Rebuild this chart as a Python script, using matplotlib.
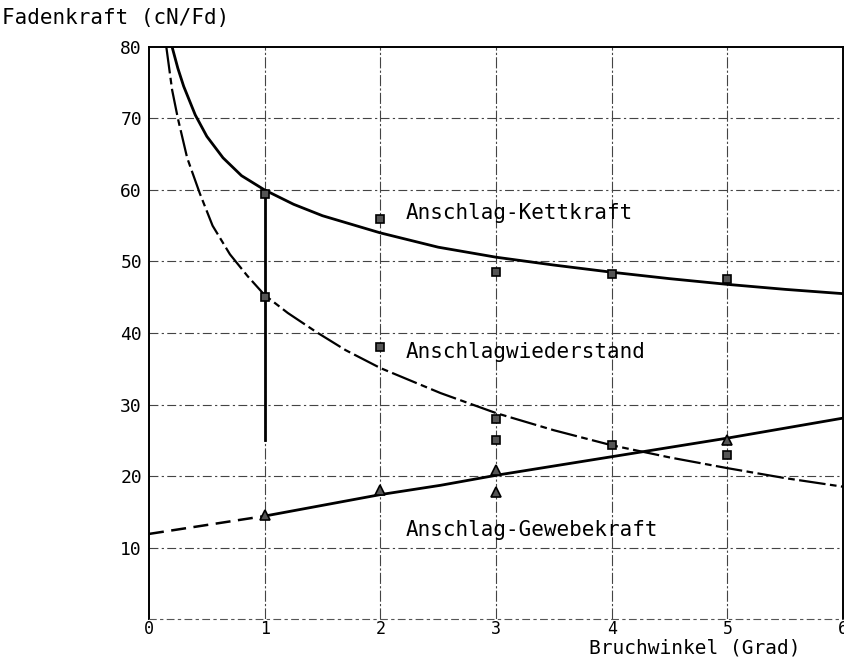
import matplotlib
matplotlib.use('Agg')
import matplotlib.pyplot as plt

plt.rcParams['font.family'] = ['DejaVu Sans Mono']

kett_x = [0.2, 0.25, 0.3, 0.4, 0.5, 0.64, 0.8, 1.0, 1.25, 1.5, 2.0, 2.5, 3.0, 3.5, 4.0, 4.5, 5.0, 5.5, 6.0]
kett_y = [80, 77, 74.5, 70.5, 67.5, 64.5, 62, 60, 58, 56.4, 54, 52, 50.6, 49.5, 48.5, 47.6, 46.8, 46.1, 45.5]
kett_px = [1, 2, 3, 4, 5]
kett_py = [59.5, 56, 48.5, 48.3, 47.5]

# Anschlagwiederstand
wied_x = [0.15, 0.2, 0.25, 0.33, 0.44, 0.55, 0.7, 0.85, 1.0, 1.2, 1.45, 1.7, 2.0, 2.52, 3.0, 3.5, 4.0, 4.5, 5.0, 5.5, 6.0]
wied_y = [80, 74, 70, 64.5, 59.5, 55, 51, 48, 45.3, 42.8, 40.1, 37.6, 35.1, 31.6, 28.8, 26.4, 24.3, 22.6, 21.1, 19.7, 18.5]
wied_px = [1, 2, 3, 3, 4, 5]
wied_py = [45, 38, 28, 25, 24.3, 23]

# Anschlag-Gewebekraft
gew_x = [0, 1, 2, 2.52, 3, 4, 5, 6]
gew_y = [11.9, 14.4, 17.4, 18.7, 20.1, 22.7, 25.3, 28.1]
gew_px = [1, 2, 3, 3, 5]
gew_py = [14.5, 18, 20.8, 17.8, 25]

# vertical range bar at x=1
bar_x = [1, 1]
bar_y = [60, 25]

fig = plt.figure(figsize=(8.44, 6.57), dpi=100)
ax = fig.add_axes([0.1765, 0.0578, 0.8225, 0.8707])

ax.set_xlim(0, 6)
ax.set_ylim(0, 80)

# grid
for yv in range(10, 80, 10):
    ax.axhline(yv, color='#444444', lw=0.8, ls=(0, (8, 3, 2, 3)), zorder=1)
for xv in range(1, 6):
    ax.axvline(xv, color='#444444', lw=0.8, ls=(0, (10, 2, 2, 2)), zorder=1)

ax.plot(kett_x, kett_y, color='black', lw=2.0, zorder=3)
ax.plot(wied_x, wied_y, color='black', lw=1.6, ls=(0, (12, 2, 3, 2)), zorder=3)
ax.plot(gew_x[:2], gew_y[:2], color='black', lw=1.8, ls=(0, (6, 3)), zorder=3)
ax.plot(gew_x[1:], gew_y[1:], color='black', lw=2.0, zorder=3)
ax.plot(bar_x, bar_y, color='black', lw=2.0, zorder=3)

ax.plot(kett_px, kett_py, 's', ms=5.5, mfc='#555555', mec='black', mew=1.2, zorder=4)
ax.plot(wied_px, wied_py, 's', ms=5.5, mfc='#555555', mec='black', mew=1.2, zorder=4)
ax.plot(gew_px, gew_py, '^', ms=6.5, mfc='#555555', mec='black', mew=1.2, zorder=4)

fs = 15
ax.text(2.22, 56.8, 'Anschlag-Kettkraft', fontsize=fs, va='center', ha='left')
ax.text(2.22, 37.3, 'Anschlagwiederstand', fontsize=fs, va='center', ha='left')
ax.text(2.22, 12.4, 'Anschlag-Gewebekraft', fontsize=fs, va='center', ha='left')

ax.set_xticks(range(0, 7))
ax.set_yticks(range(10, 90, 10))
ax.tick_params(length=0, labelsize=13)
ax.tick_params(axis='y', pad=5)
ax.tick_params(axis='x', pad=1, labelsize=12)

for s in ['left', 'top', 'right']:
    ax.spines[s].set_linewidth(1.4)
    ax.spines[s].set_color('black')
ax.spines['bottom'].set_linewidth(0.8)
ax.spines['bottom'].set_linestyle((0, (6, 4, 2, 4)))
ax.spines['bottom'].set_color('#555555')

fig.text(0.002, 0.972, 'Fadenkraft (cN/Fd)', fontsize=fs, ha='left', va='center')
fig.text(0.823, 0.0, 'Bruchwinkel (Grad)', fontsize=14, ha='center', va='bottom')

plt.savefig('out.png', dpi=100)
